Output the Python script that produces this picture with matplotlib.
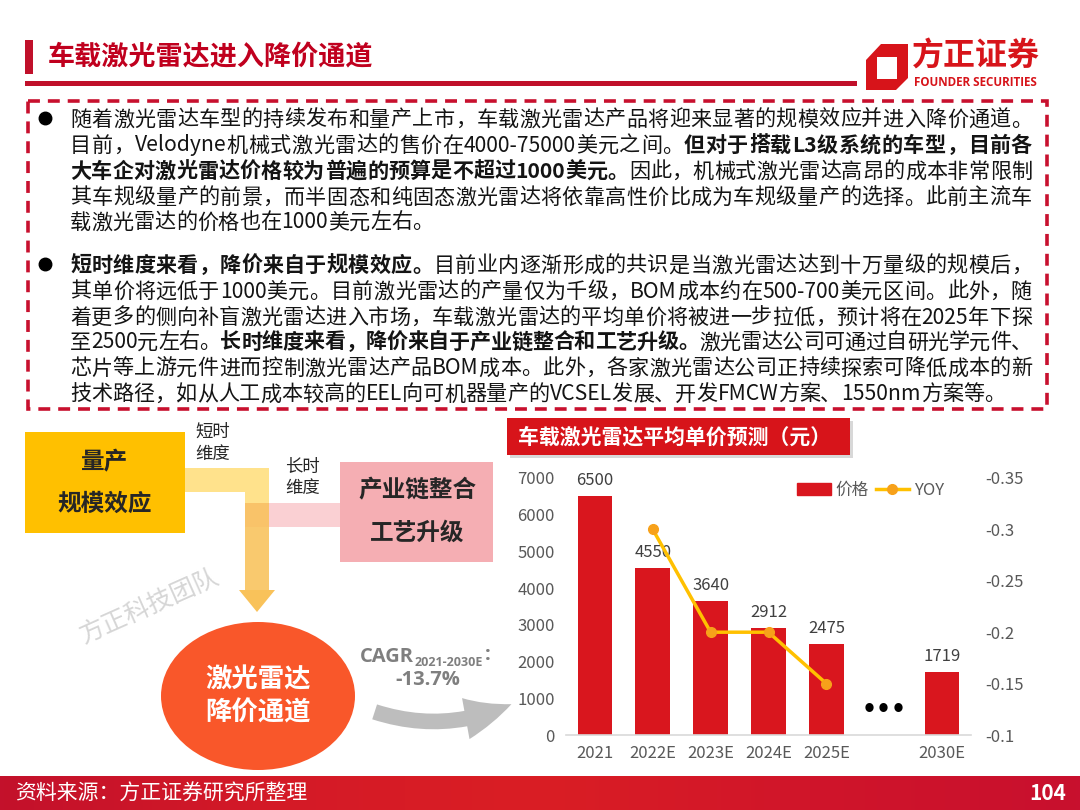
import re
import numpy as np
import matplotlib
matplotlib.use('Agg')
import matplotlib.pyplot as plt
from matplotlib.patches import Rectangle, Polygon, Ellipse, FancyArrowPatch
from matplotlib.font_manager import FontProperties
from matplotlib.lines import Line2D
from matplotlib.colors import LinearSegmentedColormap

plt.rcParams['font.family'] = ['Noto Sans CJK SC', 'DejaVu Sans']
FAM = ['Noto Sans CJK SC', 'DejaVu Sans']

# ---------------- data ----------------
categories = ['2021', '2022E', '2023E', '2024E', '2025E', '', '2030E']
prices = [6500, 4550, 3640, 2912, 2475, np.nan, 1719]
yoy = [np.nan, -0.30, -0.20, -0.20, -0.15, np.nan, np.nan]
left_ticks = [0, 1000, 2000, 3000, 4000, 5000, 6000, 7000]
right_ticks = [-0.35, -0.30, -0.25, -0.20, -0.15, -0.10]
right_labels = ['-0.35', '-0.3', '-0.25', '-0.2', '-0.15', '-0.1']
legend_labels = ['价格', 'YOY']
chart_title = '车载激光雷达平均单价预测（元）'
slide_title = '车载激光雷达进入降价通道'
source_text = '资料来源：方正证券研究所整理'
page_no = '104'
cagr_label = 'CAGR'
cagr_sub = '2021-2030E'
cagr_value = '-13.7%'

para1 = [
    [("随着激光雷达车型的持续发布和量产上市，车载激光雷达产品将迎来显著的规模效应并进入降价通道。", False)],
    [("目前，Velodyne机械式激光雷达的售价在4000-75000美元之间。", False), ("但对于搭载L3级系统的车型，目前各", True)],
    [("大车企对激光雷达价格较为普遍的预算是不超过1000美元。", True), ("因此，机械式激光雷达高昂的成本非常限制", False)],
    [("其车规级量产的前景，而半固态和纯固态激光雷达将依靠高性价比成为车规级量产的选择。此前主流车", False)],
    [("载激光雷达的价格也在1000美元左右。", False)],
]
para2 = [
    [("短时维度来看，降价来自于规模效应。", True), ("目前业内逐渐形成的共识是当激光雷达达到十万量级的规模后，", False)],
    [("其单价将远低于1000美元。目前激光雷达的产量仅为千级，BOM成本约在500-700美元区间。此外，随", False)],
    [("着更多的侧向补盲激光雷达进入市场，车载激光雷达的平均单价将被进一步拉低，预计将在2025年下探", False)],
    [("至2500元左右。", False), ("长时维度来看，降价来自于产业链整合和工艺升级。", True), ("激光雷达公司可通过自研光学元件、", False)],
    [("芯片等上游元件进而控制激光雷达产品BOM成本。此外，各家激光雷达公司正持续探索可降低成本的新", False)],
    [("技术路径，如从人工成本较高的EEL向可机器量产的VCSEL发展、开发FMCW方案、1550nm方案等。", False)],
]
para1_y = [118, 144, 170, 196, 221]
para2_y = [264, 290, 316, 341, 367, 393]

RED = '#D7141A'
DARKRED = '#C0102A'
TXT = '#141414'

# ---------------- figure ----------------
fig = plt.figure(figsize=(10.8, 8.1), dpi=100)
fig.patch.set_facecolor('white')
bg = fig.add_axes([0, 0, 1, 1])
bg.set_xlim(0, 1080)
bg.set_ylim(810, 0)
bg.axis('off')
renderer = fig.canvas.get_renderer()

_cache = {}
def text_w(s, fp):
    key = (s, fp.get_weight(), fp.get_size(), tuple(fp.get_family()))
    if key not in _cache:
        w, h, d = renderer.get_text_width_height_descent(s, fp, ismath=False)
        _cache[key] = w
    return _cache[key]

def advance(tok, fp):
    return text_w('字' + tok + '字', fp) - text_w('字字', fp)

def draw_line(x0, y, segs, fs, right=None):
    items = []
    for txt, bold in segs:
        fp = FontProperties(family=FAM, size=fs, weight='bold' if bold else 'normal')
        for tok in re.findall(r'[\x00-\x7f]+|.', txt):
            items.append((tok, fp))
    advs = [advance(t, fp) for t, fp in items]
    extra = 0.0
    if right is not None and len(items) > 1:
        extra = (right - x0 - sum(advs)) / (len(items) - 1)
    x = x0
    for (tok, fp), a in zip(items, advs):
        bg.text(x, y + 7.5, tok, fontproperties=fp, ha='left', va='baseline', color=TXT)
        x += a + extra

FS = 15.2
for i, (segs, y) in enumerate(zip(para1, para1_y)):
    draw_line(70, y, segs, FS, right=1032 if i < len(para1) - 1 else None)
for i, (segs, y) in enumerate(zip(para2, para2_y)):
    draw_line(70, y, segs, FS, right=1032 if i < len(para2) - 1 else None)
bg.plot([45, 45], [para1_y[0], para2_y[0]], 'o', ms=9, color='black', ls='none')

# dashed box
bg.add_patch(Rectangle((28, 101), 1019, 308, fill=False, ec='#C8102E', lw=2.6,
                       ls=(0, (3.3, 2.2))))

# header
bg.add_patch(Rectangle((25, 40), 8, 34, color=DARKRED, lw=0))
bg.text(48, 57, slide_title, fontsize=19.5, fontweight='bold', color='#C0001E',
        ha='left', va='center')
bg.add_patch(Rectangle((25, 81), 832, 5, color=DARKRED, lw=0))
# logo
bg.add_patch(Polygon([(866, 60), (881, 44), (908, 44), (908, 78), (896, 90), (866, 90)],
                     closed=True, color=RED, lw=0))
bg.add_patch(Polygon([(877, 57), (897, 57), (897, 79), (877, 79)], closed=True,
                     color='white', lw=0))
bg.text(912, 57, '方正证券', fontsize=23, fontweight='bold', color=RED, ha='left', va='center')
bg.text(914, 83, 'FOUNDER SECURITIES', fontsize=8.4, fontweight='bold', color=RED,
        ha='left', va='center', family=['Open Sans', 'DejaVu Sans'])

# footer gradient
cmap = LinearSegmentedColormap.from_list('f', ['#C3112B', '#D41A27', '#DA1E24', '#D0152A', '#C8102E'])
grad = np.linspace(0, 1, 256).reshape(1, -1)
bg.imshow(grad, extent=(0, 1080, 810, 776), aspect='auto', cmap=cmap, zorder=0)
bg.set_xlim(0, 1080)
bg.set_ylim(810, 0)
bg.text(15, 794, source_text, fontsize=15, color='white', ha='left', va='center')
bg.text(1066, 794, page_no, fontsize=15, fontweight='bold', color='white', ha='right', va='center')

# ---------------- diagram ----------------
bg.add_patch(Rectangle((25, 432), 160, 101, color='#FFC000', lw=0))
bg.text(105, 462, '量产', fontsize=17, fontweight='bold', color='#262626', ha='center', va='center')
bg.text(105, 504, '规模效应', fontsize=17, fontweight='bold', color='#262626', ha='center', va='center')
bg.text(195, 432, '短时', fontsize=12.5, color='#262626', ha='left', va='center')
bg.text(195, 454, '维度', fontsize=12.5, color='#262626', ha='left', va='center')
bg.text(285, 467, '长时', fontsize=12.5, color='#262626', ha='left', va='center')
bg.text(285, 488, '维度', fontsize=12.5, color='#262626', ha='left', va='center')

bg.add_patch(Polygon([(185, 468), (269, 468), (269, 503), (245, 503), (245, 492), (185, 492)],
                     closed=True, color='#FFE28C', lw=0))
bg.add_patch(Rectangle((245, 503), 95, 24, color='#FAD0D3', lw=0))
bg.add_patch(Rectangle((245, 503), 24, 87, color='#F9C25A', alpha=0.88, lw=0))
bg.add_patch(Polygon([(239, 590), (275, 590), (257, 612)], closed=True, color='#F9C25A', lw=0))

bg.add_patch(Rectangle((340, 462), 153, 100, color='#F5AEB3', lw=0))
bg.text(417, 490, '产业链整合', fontsize=17, fontweight='bold', color='#262626', ha='center', va='center')
bg.text(417, 533, '工艺升级', fontsize=17, fontweight='bold', color='#262626', ha='center', va='center')

bg.text(150, 606, '方正科技团队', fontsize=18, color='#D6D6D6', rotation=24,
        ha='center', va='center')

bg.add_patch(Ellipse((258, 696), 194, 148, color='#F9572A', lw=0))
bg.text(258, 680, '激光雷达', fontsize=19, fontweight='bold', color='white', ha='center', va='center')
bg.text(258, 713, '降价通道', fontsize=19, fontweight='bold', color='white', ha='center', va='center')

# CAGR label and arrow
fpC = FontProperties(family=['Open Sans', 'DejaVu Sans'], size=14.5, weight='bold')
fpS = FontProperties(family=['Open Sans', 'DejaVu Sans'], size=9, weight='bold')
bg.text(360, 657, cagr_label, fontproperties=fpC, color='#7F7F7F', ha='left', va='center')
wC = text_w(cagr_label, fpC)
bg.text(360 + wC + 1, 663, cagr_sub, fontproperties=fpS, color='#7F7F7F', ha='left', va='center')
wS = text_w(cagr_sub, fpS)
bg.text(360 + wC + wS + 3, 655, ':', fontproperties=fpC, color='#7F7F7F', ha='left', va='center')
bg.text(428, 680, cagr_value, fontproperties=fpC, color='#7F7F7F', ha='center', va='center')
bg.add_patch(FancyArrowPatch((372, 711), (514, 703), connectionstyle='arc3,rad=0.2',
                             arrowstyle='simple,head_width=2.0,head_length=2.3,tail_width=0.75',
                             mutation_scale=15, color='#BDBDBD', lw=0))

# chart title box
bg.add_patch(Rectangle((510, 421), 343, 37, color='#C8C8C8', alpha=0.7, lw=0))
bg.add_patch(Rectangle((507, 418), 343, 37, color=RED, lw=0))
bg.text(518, 437, chart_title, fontsize=15, fontweight='bold', color='white', ha='left', va='center')

# ---------------- chart ----------------
ax = fig.add_axes([566 / 1080, 75 / 810, 405 / 1080, 257 / 810])
ax.set_facecolor('none')
idx = np.arange(len(categories))
p = np.array(prices, dtype=float)
ok = ~np.isnan(p)
ax.bar(idx[ok], p[ok], width=0.6, color='#D9161E', zorder=2, label=legend_labels[0])
for i, v in zip(idx[ok], p[ok]):
    ax.annotate(f'{int(v)}', (i, v), xytext=(0, 5), textcoords='offset points',
                ha='center', va='bottom', fontsize=12, color='#404040')
ax.text(5, 680, '•••', fontsize=17, ha='center', va='center', color='black',
        family=['DejaVu Sans'], fontweight='bold')
ax.set_xlim(-0.5, 6.5)
ax.set_ylim(0, 7000)
ax.set_yticks(left_ticks)
ax.set_xticks(idx)
ax.set_xticklabels(categories)
ax.tick_params(axis='y', length=0, pad=8, labelsize=12, labelcolor='#595959')
ax.tick_params(axis='x', length=0, pad=7, labelsize=12, labelcolor='#595959')
for s in ['top', 'left', 'right']:
    ax.spines[s].set_visible(False)
ax.spines['bottom'].set_color('#D9D9D9')
ax.spines['bottom'].set_linewidth(1.2)

ax3 = ax.twinx()
ax3.set_facecolor('none')
yy = np.array(yoy, dtype=float)
ok2 = ~np.isnan(yy)
ax3.plot(idx[ok2], yy[ok2], color='#FFC000', lw=2.5, marker='o', ms=7,
         mfc='#F7A11A', mec='#F7A11A', zorder=5)
ax3.set_ylim(-0.10, -0.35)
ax3.set_yticks(right_ticks)
ax3.set_yticklabels(right_labels)
ax3.tick_params(axis='y', length=0, pad=10, labelsize=12, labelcolor='#595959')
for s in ['top', 'left', 'right', 'bottom']:
    ax3.spines[s].set_visible(False)

handles = [Rectangle((0, 0), 1, 1, color='#D9161E'),
           Line2D([0], [0], color='#FFC000', lw=2.5, marker='o', ms=7, mfc='#F7A11A', mec='#F7A11A')]
leg = ax3.legend(handles, legend_labels, loc='center left', bbox_to_anchor=(0.555, 0.953),
                 ncol=2, frameon=False, fontsize=12, handlelength=2.0, handletextpad=0.3,
                 columnspacing=0.4, borderaxespad=0)
for t in leg.get_texts():
    t.set_color('#595959')

fig.savefig('out.png', dpi=100, facecolor='white')
